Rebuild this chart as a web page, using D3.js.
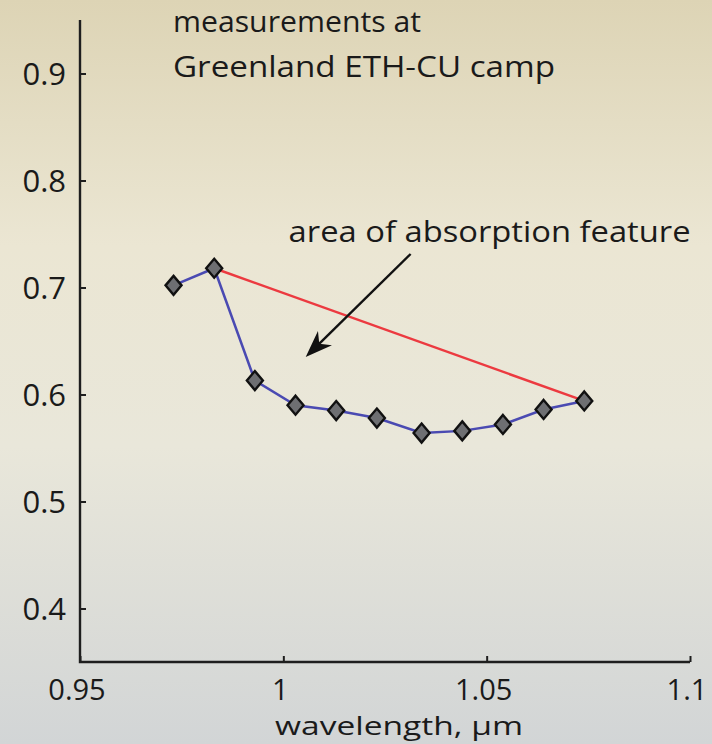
<!DOCTYPE html>
<html>
<head>
<meta charset="utf-8">
<script src="https://cdn.jsdelivr.net/npm/d3@7"></script>
<style>
  html, body { margin: 0; padding: 0; background: #e8e4d4; }
  svg { display: block; }
  text { font-family: "Open Sans", "Noto Sans", sans-serif; fill: #1a1a1a; }
</style>
</head>
<body>
<script>
// Reflectance spectrum around the 1.03 µm ice absorption band
const wavelengths = [0.973, 0.983, 0.993, 1.003, 1.013, 1.023, 1.034, 1.044, 1.054, 1.064, 1.074];
const reflectance = [0.702, 0.718, 0.613, 0.590, 0.585, 0.578, 0.564, 0.566, 0.572, 0.586, 0.594];

// Continuum line drawn between the two shoulders of the band
const continuumIdx = [1, 10];

const xTicks = [0.95, 1, 1.05, 1.1];
const xTickLabels = ["0.95", "1", "1.05", "1.1"];
const yTicks = [0.4, 0.5, 0.6, 0.7, 0.8, 0.9];
const yTickLabels = ["0.4", "0.5", "0.6", "0.7", "0.8", "0.9"];

const titleLines = ["measurements at", "Greenland ETH-CU camp"];
const annotationText = "area of absorption feature";
const xLabel = "wavelength, \u00b5m";

const W = 712, H = 744;
const svg = d3.select("body").append("svg").attr("width", W).attr("height", H);

// Background wash: warm beige at the top fading to cool grey at the bottom
const defs = svg.append("defs");
const grad = defs.append("linearGradient").attr("id", "bg").attr("x1", 0).attr("y1", 0).attr("x2", 0).attr("y2", 1);
[[0, "#ddd4b5"], [0.33, "#ebe6d3"], [0.6, "#e9e7da"], [1, "#d2d5d6"]]
  .forEach(([o, c]) => grad.append("stop").attr("offset", o).attr("stop-color", c));
svg.append("rect").attr("width", W).attr("height", H).attr("fill", "url(#bg)");

const x = d3.scaleLinear().domain([0.95, 1.1]).range([80, 690]);
const y = d3.scaleLinear().domain([0.35, 0.95]).range([662, 20]);

// Axes with short inward ticks
const axisColor = "#1e1e1e";
const gx = svg.append("g").attr("transform", `translate(0,${y(0.35)})`)
  .call(d3.axisTop(x).tickValues(xTicks).tickSize(6).tickFormat(""));
const gy = svg.append("g").attr("transform", `translate(${x(0.95)},0)`)
  .call(d3.axisRight(y).tickValues(yTicks).tickSize(6).tickFormat(""));
[gx, gy].forEach(g => {
  g.select(".domain").remove();
  g.selectAll(".tick line").attr("stroke", axisColor).attr("stroke-width", 2);
});
svg.append("path")
  .attr("d", `M${x(0.95)},${y(0.95)}V${y(0.35)}H${x(1.1)}`)
  .attr("fill", "none").attr("stroke", axisColor).attr("stroke-width", 2.4);

// Tick labels
svg.append("g").selectAll("text").data(xTicks).join("text")
  .attr("x", d => x(d) - 3).attr("y", 700)
  .attr("text-anchor", "middle").attr("font-size", 29)
  .text((d, i) => xTickLabels[i]);
svg.append("g").selectAll("text").data(yTicks).join("text")
  .attr("x", 66).attr("y", d => y(d)).attr("dy", "0.36em")
  .attr("text-anchor", "end").attr("font-size", 31)
  .text((d, i) => yTickLabels[i]);

svg.append("text").attr("x", 275).attr("y", 735)
  .attr("font-size", 25).attr("textLength", 248).attr("lengthAdjust", "spacingAndGlyphs")
  .text(xLabel);

// Title block
svg.append("g").selectAll("text").data(titleLines).join("text")
  .attr("x", 173).attr("y", (d, i) => 32 + i * 45)
  .attr("font-size", 30)
  .attr("textLength", (d, i) => i === 0 ? 248 : 382).attr("lengthAdjust", "spacingAndGlyphs")
  .text(d => d);

// Measured spectrum
const pts = wavelengths.map((w, i) => [w, reflectance[i]]);
svg.append("path").datum(pts)
  .attr("d", d3.line().x(d => x(d[0])).y(d => y(d[1])))
  .attr("fill", "none").attr("stroke", "#4a4ab2").attr("stroke-width", 2.5);

// Continuum
const cont = continuumIdx.map(i => pts[i]);
svg.append("path").datum(cont)
  .attr("d", d3.line().x(d => x(d[0])).y(d => y(d[1])))
  .attr("fill", "none").attr("stroke", "#ec3a40").attr("stroke-width", 2.5);

// Diamond markers
svg.append("g").selectAll("path").data(pts).join("path")
  .attr("transform", d => `translate(${x(d[0])},${y(d[1])})`)
  .attr("d", "M0,-9.5L8,0L0,9.5L-8,0Z")
  .attr("fill", "#6e6f72").attr("stroke", "#111").attr("stroke-width", 2.4);

// Annotation and arrow pointing into the band area
svg.append("text").attr("x", x(1.0013)).attr("y", y(0.7425))
  .attr("font-size", 30).attr("textLength", 402).attr("lengthAdjust", "spacingAndGlyphs")
  .text(annotationText);

const from = [x(1.0313), y(0.7313)], to = [x(1.0055), y(0.635)];
const ang = Math.atan2(to[1] - from[1], to[0] - from[0]);
svg.append("line")
  .attr("x1", from[0]).attr("y1", from[1])
  .attr("x2", to[0] - Math.cos(ang) * 12).attr("y2", to[1] - Math.sin(ang) * 12)
  .attr("stroke", "#111").attr("stroke-width", 2.4);
svg.append("path")
  .attr("transform", `translate(${to[0]},${to[1]}) rotate(${ang * 180 / Math.PI})`)
  .attr("d", "M0,0L-27,-10L-19,0L-27,10Z")
  .attr("fill", "#111");
</script>
</body>
</html>
